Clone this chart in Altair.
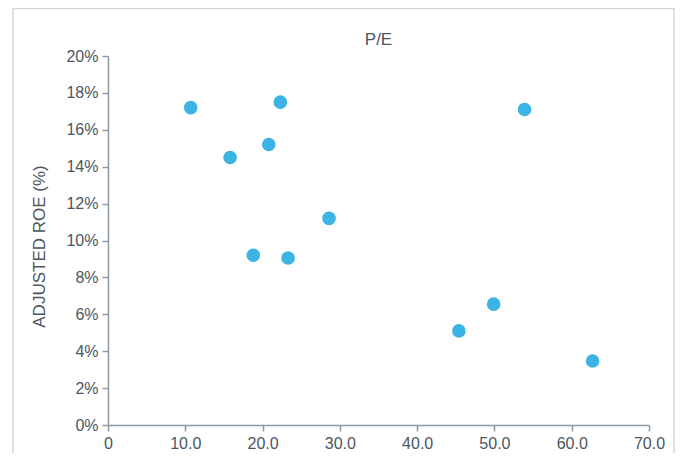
import altair as alt
import pandas as pd

# Data
pe = [10.7, 15.8, 18.8, 20.8, 22.3, 23.3, 28.6, 45.4, 49.9, 53.9, 62.7]
roe = [17.2, 14.5, 9.2, 15.2, 17.5, 9.05, 11.2, 5.1, 6.55, 17.1, 3.47]
x_ticks = [0, 10, 20, 30, 40, 50, 60, 70]
y_ticks = [0, 2, 4, 6, 8, 10, 12, 14, 16, 18, 20]
chart_title = ["P/E"]

df = pd.DataFrame({"pe": pe, "roe": roe})

FONT = "Liberation Sans"
TXT = "#4b5661"
AXIS = "#8d99a3"

points = alt.Chart(df).mark_circle(size=185, opacity=1, color="#3bb3e3").encode(
    x=alt.X("pe:Q",
            scale=alt.Scale(domain=[0, 70], nice=False),
            axis=alt.Axis(values=x_ticks, title=None, labelFlush=False,
                          labelExpr="datum.value == 0 ? '0' : format(datum.value, '.1f')")),
    y=alt.Y("roe:Q",
            scale=alt.Scale(domain=[0, 20], nice=False),
            axis=alt.Axis(values=y_ticks, title="ADJUSTED ROE (%)", labelFlush=False,
                          labelExpr="datum.value + '%'",
                          titleX=-69, titleY=190, titleAngle=-90,
                          titleAlign="center", titleBaseline="middle")),
)

frame = alt.Chart(alt.Data(values=[{}])).mark_rect(
    filled=False, stroke="#cfd6dc", strokeWidth=1.5
).encode(
    x=alt.value(-95), x2=alt.value(566),
    y=alt.value(-47.5), y2=alt.value(600),
)

title = alt.Chart(pd.DataFrame({"t": chart_title})).mark_text(
    font=FONT, fontSize=17, color=TXT, align="center", baseline="alphabetic"
).encode(
    text="t:N", x=alt.value(270.5), y=alt.value(-11),
)

chart = alt.layer(frame, points, title).properties(
    width=541, height=369,
    autosize=alt.AutoSizeParams(type="none"),
    padding={"left": 100, "top": 48, "right": 26, "bottom": 28},
).configure_view(stroke=None).configure_axis(
    grid=False,
    domainColor=AXIS, domainWidth=1.5,
    tickColor=AXIS, tickWidth=1.5, tickSize=6,
    labelFont=FONT, labelFontSize=16, labelColor=TXT, labelPadding=4,
    titleFont=FONT, titleFontSize=17, titleColor=TXT, titleFontWeight="normal",
)

chart.save("out.html", embed_options={"renderer": "svg", "actions": False})
